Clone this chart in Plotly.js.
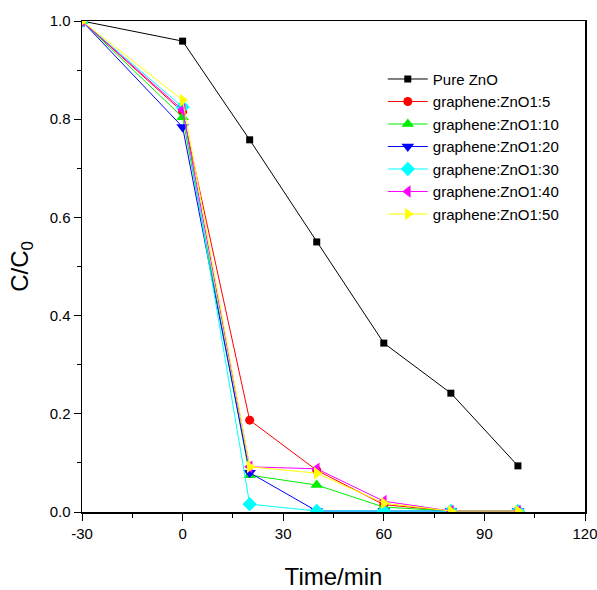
<!DOCTYPE html>
<html>
<head>
<meta charset="utf-8">
<script src="https://cdn.plot.ly/plotly-3.0.1.min.js"></script>
<style>html,body{margin:0;padding:0;background:#fff;}#chart{width:597px;height:590px;}</style>
</head>
<body>
<div id="chart"></div>
<script>
const time = [-30, 0, 20, 40, 60, 80, 100];
const seriesNames = ["Pure ZnO", "graphene:ZnO1:5", "graphene:ZnO1:10", "graphene:ZnO1:20", "graphene:ZnO1:30", "graphene:ZnO1:40", "graphene:ZnO1:50"];
const pureZnO = [1.0, 0.959, 0.758, 0.550, 0.344, 0.242, 0.094];
const gz1_5  = [1.0, 0.815, 0.187, 0.085, 0.015, 0.002, 0.002];
const gz1_10 = [1.0, 0.804, 0.075, 0.055, 0.010, 0.002, 0.002];
const gz1_20 = [1.0, 0.784, 0.080, 0.002, 0.002, 0.002, 0.002];
const gz1_30 = [1.0, 0.825, 0.016, 0.002, 0.002, 0.002, 0.002];
const gz1_40 = [1.0, 0.819, 0.092, 0.088, 0.022, 0.002, 0.002];
const gz1_50 = [1.0, 0.839, 0.092, 0.079, 0.018, 0.002, 0.002];
const xTicks = [-30, 0, 30, 60, 90, 120];
const xTickText = ["-30", "0", "30", "60", "90", "120"];
const yTicks = [0, 0.2, 0.4, 0.6, 0.8, 1.0];
const yTickText = ["0.0", "0.2", "0.4", "0.6", "0.8", "1.0"];

const values = [pureZnO, gz1_5, gz1_10, gz1_20, gz1_30, gz1_40, gz1_50];
const colors = ["#000000", "#ff0000", "#00ee00", "#0000ff", "#00ffff", "#ff00ff", "#ffff00"];
const symbols = ["square", "circle", "triangle-up", "triangle-down", "diamond", "triangle-left", "triangle-right"];
const sizes = [7, 9, 11, 11, 11, 11, 11];

const traces = values.map((v, i) => ({
  x: time, y: v, name: seriesNames[i], type: "scatter", mode: "lines+markers",
  line: {color: colors[i], width: 1},
  marker: {color: colors[i], symbol: symbols[i], size: sizes[i], line: {width: 0}}
}));

const layout = {
  width: 597, height: 590,
  margin: {l: 82, r: 12, t: 21, b: 78},
  paper_bgcolor: "#fff", plot_bgcolor: "#fff",
  font: {family: "Liberation Sans, Arial, sans-serif", color: "#000"},
  showlegend: true,
  legend: {x: 0.598, y: 0.915, xanchor: "left", yanchor: "top", bgcolor: "rgba(0,0,0,0)",
           font: {size: 15, family: "Liberation Sans, Arial"}, tracegroupgap: 0, itemwidth: 40},
  xaxis: {
    range: [-30, 120.001], tickvals: xTicks, ticktext: xTickText, ticklabeloverflow: "allow",
    ticks: "outside", ticklen: 7, tickwidth: 1, tickcolor: "#000",
    minor: {dtick: 15, tick0: -30, ticks: "outside", ticklen: 4, tickcolor: "#000", showgrid: false},
    showline: true, linecolor: "#000", linewidth: 1.5, mirror: true, showgrid: false, zeroline: false,
    tickfont: {size: 15, family: "Liberation Sans, Arial"},
    title: {text: "Time/min", font: {size: 24, family: "Liberation Sans, Arial"}, standoff: 27}
  },
  yaxis: {
    range: [0, 1.0], tickvals: yTicks, ticktext: yTickText,
    ticks: "outside", ticklen: 7, tickwidth: 1, tickcolor: "#000",
    minor: {dtick: 0.1, tick0: 0, ticks: "outside", ticklen: 4, tickcolor: "#000", showgrid: false},
    showline: true, linecolor: "#000", linewidth: 1.5, mirror: true, showgrid: false, zeroline: false,
    tickfont: {size: 15, family: "Liberation Sans, Arial"},
    title: {text: "C/C<sub>0</sub>", font: {size: 24, family: "Liberation Sans, Arial"}, standoff: 14}
  }
};

Plotly.newPlot("chart", traces, layout, {displayModeBar: false, staticPlot: true});
</script>
</body>
</html>
